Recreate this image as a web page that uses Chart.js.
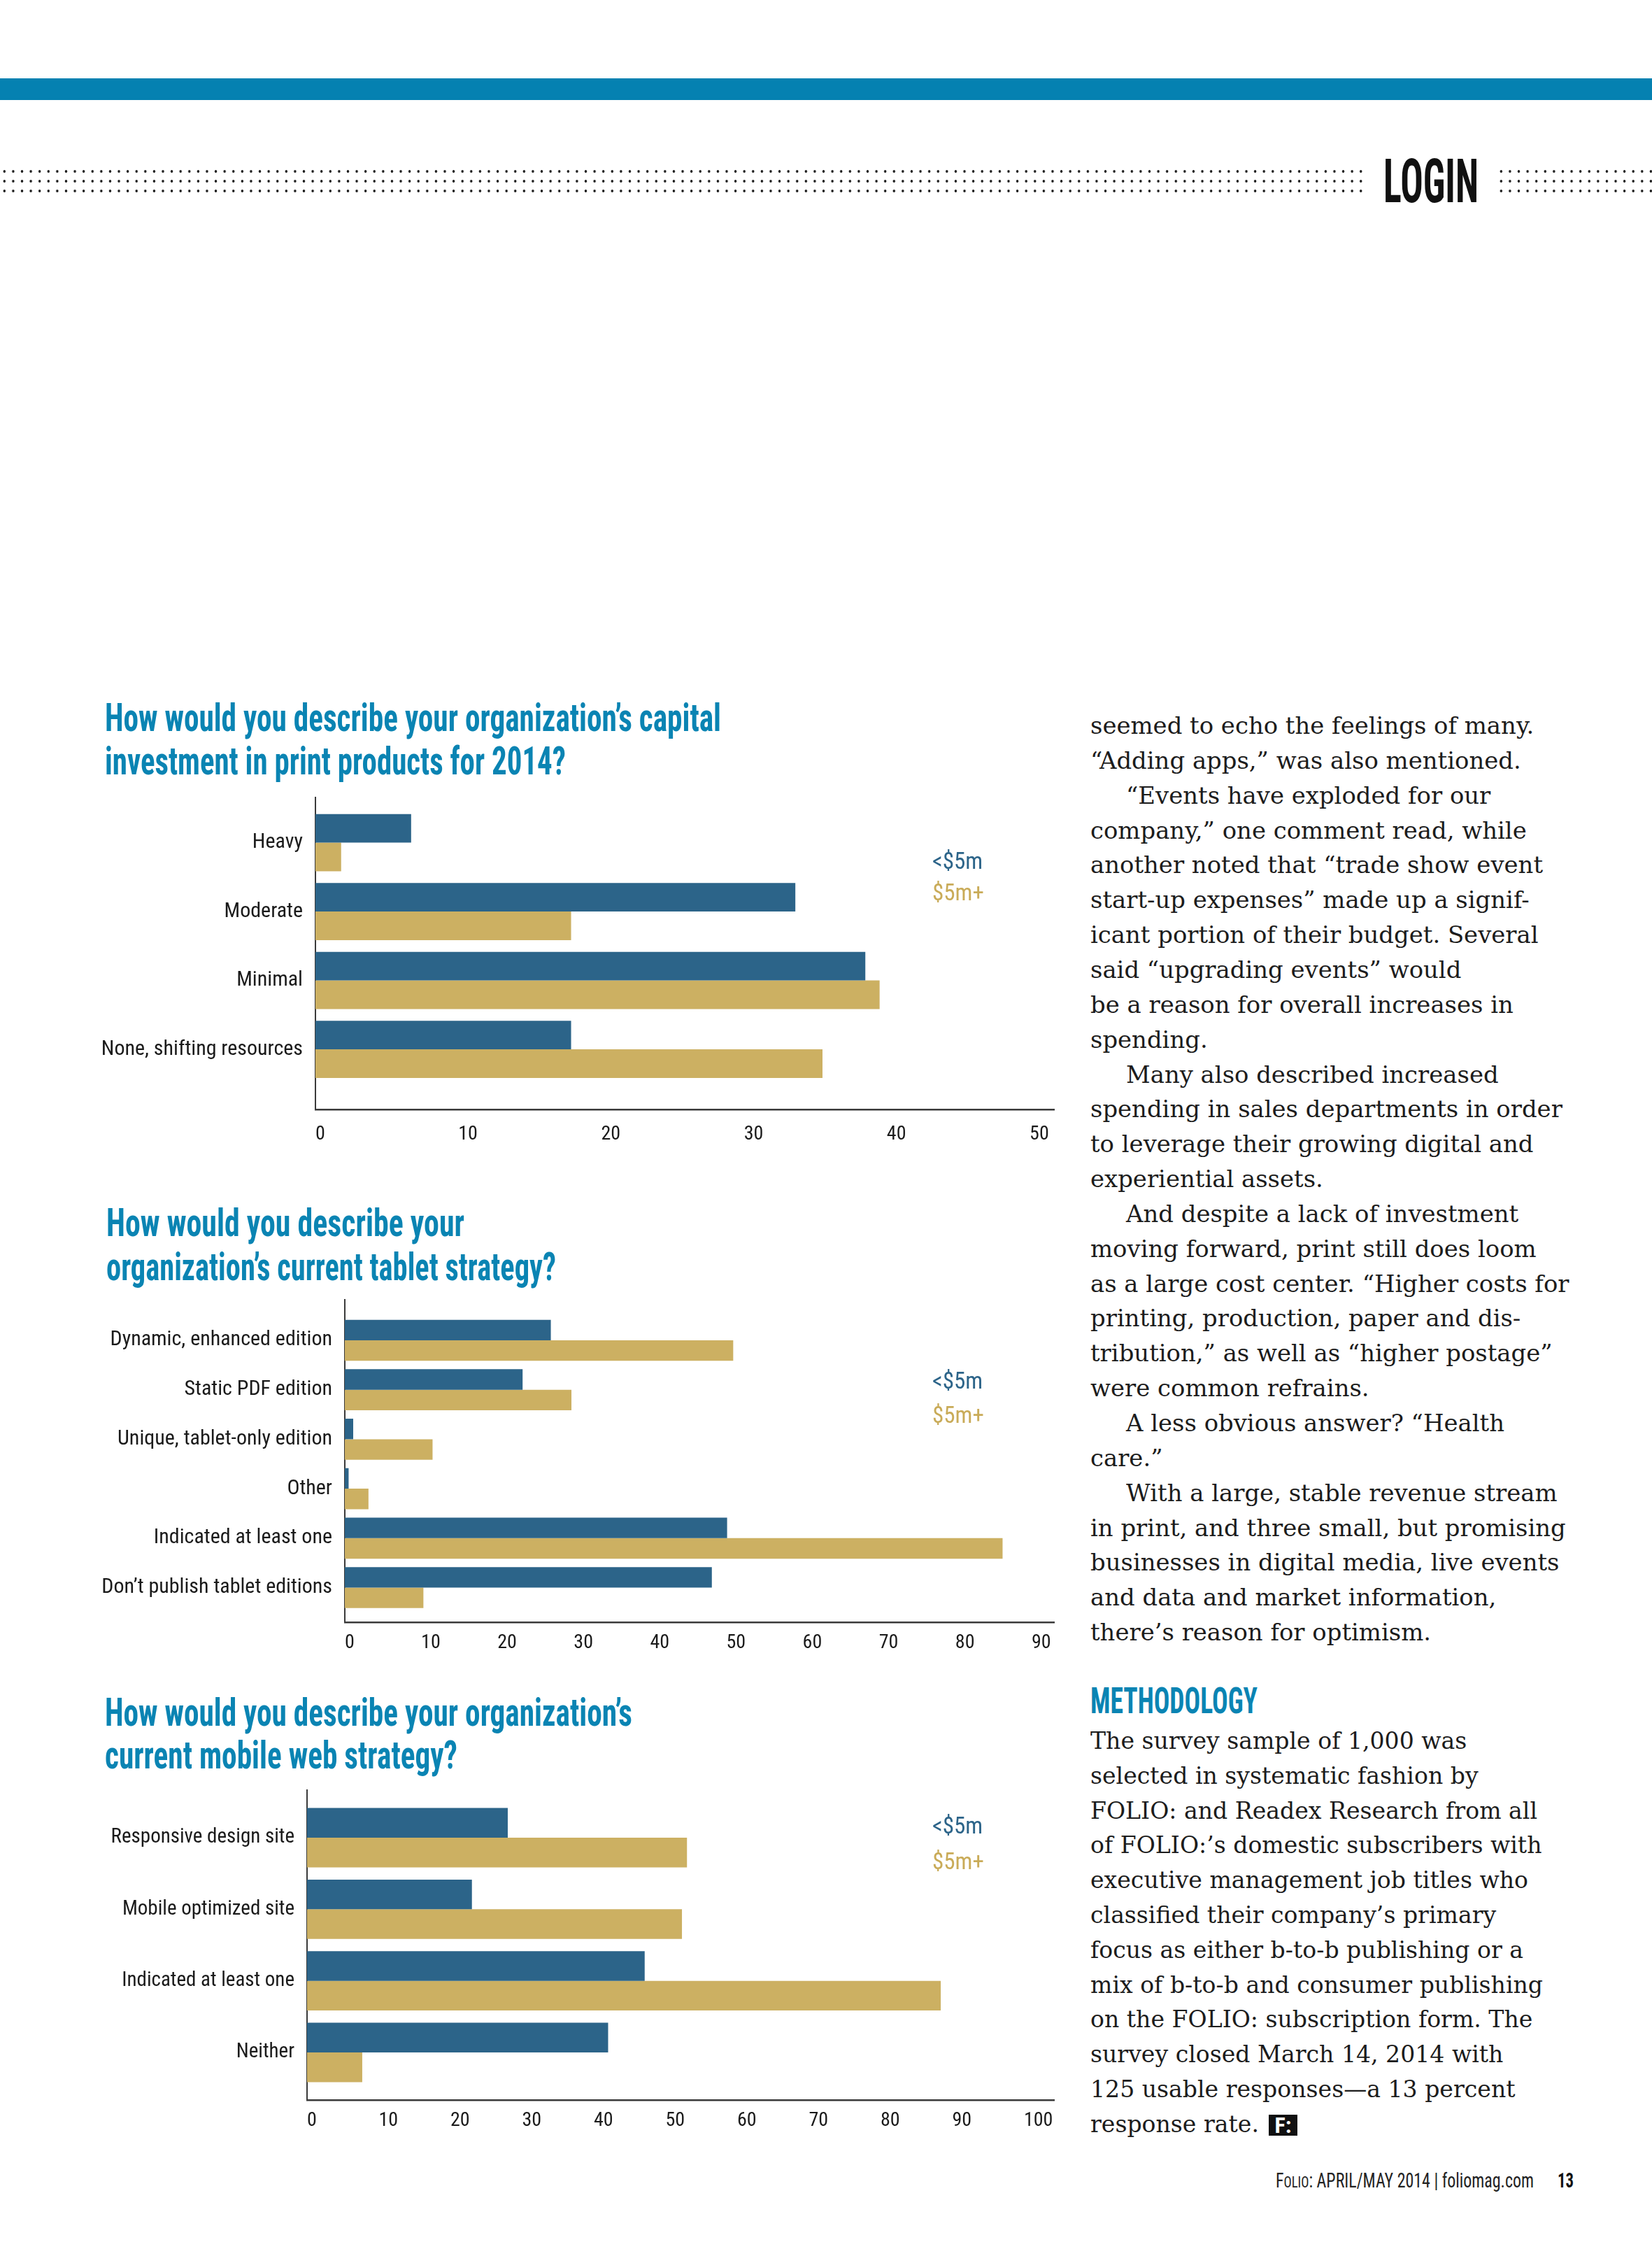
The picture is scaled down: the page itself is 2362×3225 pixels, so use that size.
<!DOCTYPE html>
<html><head><meta charset="utf-8">
<script src="https://cdn.jsdelivr.net/npm/chart.js@4.4.1/dist/chart.umd.min.js"></script>
<style>
html,body{margin:0;padding:0;background:#fff;}
body{width:2362px;height:3225px;position:relative;overflow:hidden;}
.abs{position:absolute;white-space:nowrap;transform-origin:0 0;}
.band{position:absolute;left:0;top:112px;width:2362px;height:31px;background:#0581b1;}
.dots{position:absolute;top:238px;height:42px;background-image:radial-gradient(circle, #1a1a1a 1.5px, rgba(0,0,0,0) 2.1px);background-size:12.6px 14px;background-position:0 0;}
.title{font-family:'Roboto Condensed',Roboto;font-weight:700;font-size:55px;line-height:60px;color:#0a84b3;}
.body{font-family:'DejaVu Serif';font-size:33px;line-height:40px;color:#1c1c1c;}
canvas{position:absolute;left:0;}
</style></head>
<body>
<div class="band"></div>
<div class="dots" style="left:0;width:1950px"></div>
<div class="dots" style="left:2140px;width:222px"></div>
<canvas id="c1" width="1540" height="560" style="top:1100px;width:1540px;height:560px"></canvas>
<canvas id="c2" width="1540" height="540" style="top:1840px;width:1540px;height:540px"></canvas>
<canvas id="c3" width="1540" height="540" style="top:2540px;width:1540px;height:540px"></canvas>
<script>
// ---------- data ----------
const seriesLabels = ['<$5m', '$5m+'];

const printCategories = ['Heavy', 'Moderate', 'Minimal', 'None, shifting resources'];
const printUnder5m = [6.7, 33.6, 38.5, 17.9];
const printOver5m = [1.8, 17.9, 39.5, 35.5];
const printTicks = [0, 10, 20, 30, 40, 50];

const tabletCategories = ['Dynamic, enhanced edition', 'Static PDF edition', 'Unique, tablet-only edition', 'Other', 'Indicated at least one', 'Don\u2019t publish tablet editions'];
const tabletUnder5m = [27.0, 23.3, 1.1, 0.5, 50.1, 48.1];
const tabletOver5m = [50.9, 29.7, 11.5, 3.1, 86.2, 10.3];
const tabletTicks = [0, 10, 20, 30, 40, 50, 60, 70, 80, 90];

const mobileCategories = ['Responsive design site', 'Mobile optimized site', 'Indicated at least one', 'Neither'];
const mobileUnder5m = [28.0, 23.0, 47.1, 42.0];
const mobileOver5m = [53.0, 52.3, 88.4, 7.7];
const mobileTicks = [0, 10, 20, 30, 40, 50, 60, 70, 80, 90, 100];

// ---------- styles ----------
const BLUE = '#2c6489';
const GOLD = '#ccb062';
const GOLD_TEXT = '#c9ab58';
const COND = "'Roboto Condensed', Roboto, sans-serif";

const seriesText = {
  id: 'seriesText',
  afterDraw(chart, args, o) {
    const {ctx, chartArea} = chart;
    ctx.save();
    ctx.font = o.size + 'px ' + COND;
    ctx.textBaseline = 'middle';
    ctx.textAlign = 'left';
    chart.data.datasets.forEach((ds, i) => {
      ctx.fillStyle = ds.textColor;
      ctx.fillText(ds.label, chartArea.right - o.offsetX, chartArea.top + o.offsetY + i * o.gap);
    });
    ctx.restore();
  }
};

function noPad(s) { s.paddingTop = 0; s.paddingBottom = 0; s.paddingLeft = 0; s.paddingRight = 0; }

function barChart(id, cats, under, over, ticks, g) {
  return new Chart(document.getElementById(id), {
    type: 'bar',
    data: {
      datasets: [
        {label: seriesLabels[0], data: under.map((v, i) => ({x: v, y: i})), backgroundColor: BLUE, textColor: BLUE},
        {label: seriesLabels[1], data: over.map((v, i) => ({x: v, y: i})), backgroundColor: GOLD, textColor: GOLD_TEXT}
      ]
    },
    options: {
      indexAxis: 'y',
      responsive: false,
      animation: false,
      devicePixelRatio: 1,
      layout: {padding: {left: 0, right: g.padR, top: g.padT, bottom: 0}},
      datasets: {bar: {categoryPercentage: 0.83, barPercentage: 1, borderWidth: 0}},
      plugins: {
        legend: {display: false},
        tooltip: {enabled: false},
        seriesText: {size: 33, offsetX: 174, offsetY: g.legY, gap: g.legGap}
      },
      scales: {
        x: {
          type: 'linear', min: 0, max: g.xmax, offset: false,
          afterBuildTicks: s => { s.ticks = ticks.map(v => ({value: v})); },
          afterFit: s => { s.height = g.xh; noPad(s); },
          grid: {display: false, drawTicks: false},
          border: {display: true, color: '#3a3a3a', width: 2.5},
          ticks: {align: 'start', padding: g.tickPad, color: '#1a1a1a', font: {family: COND, size: 28}}
        },
        y: {
          type: 'linear', reverse: true, min: g.ymin, max: g.ymax, offset: false,
          afterBuildTicks: s => { s.ticks = cats.map((c, i) => ({value: i})); },
          afterFit: s => { s.width = g.yw; noPad(s); },
          grid: {display: false, drawTicks: false},
          border: {display: true, color: '#3a3a3a', width: 2},
          ticks: {callback: v => cats[v], padding: 18, color: '#1a1a1a', font: {family: COND, size: g.catSize}}
        }
      }
    },
    plugins: [seriesText]
  });
}

barChart('c1', printCategories, printUnder5m, printOver5m, printTicks,
  {padR: 33, padT: 40, xh: 74, yw: 451, xmax: 51.71, ymin: -0.655, ymax: 3.873, tickPad: 19, legY: 94, legGap: 45, catSize: 30});
barChart('c2', tabletCategories, tabletUnder5m, tabletOver5m, tabletTicks,
  {padR: 33, padT: 18, xh: 61, yw: 493, xmax: 92.94, ymin: -0.82, ymax: 5.70, tickPad: 13, legY: 119, legGap: 49, catSize: 30});
barChart('c3', mobileCategories, mobileUnder5m, mobileOver5m, mobileTicks,
  {padR: 33, padT: 19, xh: 78, yw: 439, xmax: 104.2, ymin: -0.665, ymax: 3.665, tickPad: 13, legY: 54, legGap: 51, catSize: 29});

// ---------- page text ----------
function addText(html, x, base, cls, style, width, scale) {
  const d = document.createElement('div');
  d.className = 'abs ' + (cls || '');
  d.style.left = x + 'px';
  d.style.top = '0px';
  if (style) Object.assign(d.style, style);
  d.innerHTML = html;
  const m = document.createElement('span');
  m.style.cssText = 'display:inline-block;width:0;height:0;vertical-align:baseline;';
  d.appendChild(m);
  document.body.appendChild(d);
  const off = m.offsetTop;
  d.style.top = (base - off) + 'px';
  const nat = d.getBoundingClientRect().width;
  let s = scale;
  if (width) s = width / nat;
  if (s) d.style.transform = 'scaleX(' + s + ')';
  return {el: d, nat, s: s || 1};
}

// titles
addText('How would you describe your organization\u2019s capital', 150, 1045, 'title', null, 881);
addText('investment in print products for 2014?', 150, 1107, 'title', null, 659);
addText('How would you describe your', 152, 1767, 'title', null, 512);
addText('organization\u2019s current tablet strategy?', 152, 1830, 'title', null, 643);
addText('How would you describe your organization\u2019s', 150, 2467, 'title', null, 754);
addText('current mobile web strategy?', 150, 2528, 'title', null, 504);

// LOGIN
addText('LOGIN', 1978, 289, '', {fontFamily: "'Roboto Condensed',Roboto", fontWeight: 700, fontSize: '88px', color: '#111'}, 136);

// body column
const bodyLines = [
 'seemed to echo the feelings of many.',
 '\u201cAdding apps,\u201d was also mentioned.',
 '\t\u201cEvents have exploded for our',
 'company,\u201d one comment read, while',
 'another noted that \u201ctrade show event',
 'start-up expenses\u201d made up a signif-',
 'icant portion of their budget. Several',
 'said \u201cupgrading events\u201d would',
 'be a reason for overall increases in',
 'spending.',
 '\tMany also described increased',
 'spending in sales departments in order',
 'to leverage their growing digital and',
 'experiential assets.',
 '\tAnd despite a lack of investment',
 'moving forward, print still does loom',
 'as a large cost center. \u201cHigher costs for',
 'printing, production, paper and dis-',
 'tribution,\u201d as well as \u201chigher postage\u201d',
 'were common refrains.',
 '\tA less obvious answer? \u201cHealth',
 'care.\u201d',
 '\tWith a large, stable revenue stream',
 'in print, and three small, but promising',
 'businesses in digital media, live events',
 'and data and market information,',
 'there\u2019s reason for optimism.'
];
const probe = addText(bodyLines[4], 0, -200, 'body');
const bodyScale = 647 / probe.nat;
probe.el.remove();
bodyLines.forEach((t, i) => {
  const ind = t.startsWith('\t');
  addText(t.replace('\t', ''), 1559 + (ind ? 51 : 0), 1049 + i * 49.85, 'body', null, null, bodyScale);
});

addText('METHODOLOGY', 1559, 2449, '', {fontFamily: "'Roboto Condensed',Roboto", fontWeight: 700, fontSize: '51px', color: '#0a84b3'}, 239);

const methLines = [
 'The survey sample of 1,000 was',
 'selected in systematic fashion by',
 'FOLIO: and Readex Research from all',
 'of FOLIO:\u2019s domestic subscribers with',
 'executive management job titles who',
 'classified their company\u2019s primary',
 'focus as either b-to-b publishing or a',
 'mix of b-to-b and consumer publishing',
 'on the FOLIO: subscription form. The',
 'survey closed March 14, 2014 with',
 '125 usable responses\u2014a 13 percent',
 'response rate.'
];
const probe2 = addText(methLines[7], 0, -200, 'body');
const methScale = 647 / probe2.nat;
probe2.el.remove();
let lastLine;
methLines.forEach((t, i) => { lastLine = addText(t, 1559, 2500 + i * 49.8, 'body', null, null, methScale); });

// F: end mark, placed after the last line
const fm = document.createElement('div');
fm.className = 'abs';
const fmLeft = Math.round(1559 + lastLine.nat * methScale + 14);
fm.style.cssText += 'left:' + fmLeft + 'px;top:3023px;width:41px;height:30px;background:#111;color:#fff;font-family:"Roboto Condensed",Roboto;font-weight:700;font-size:32px;line-height:30px;text-align:center;overflow:hidden;';
fm.textContent = 'F:';
document.body.appendChild(fm);

// footer
addText('F<span style="font-size:0.78em">OLIO</span>: APRIL/MAY 2014 | foliomag.com', 1824, 3127, '', {fontFamily: "'Roboto Condensed',Roboto", fontSize: '29px', color: '#222'}, 369);
addText('13', 2227, 3127, '', {fontFamily: "'Roboto Condensed',Roboto", fontWeight: 700, fontSize: '29px', color: '#111'}, 23);
</script>
</body></html>
